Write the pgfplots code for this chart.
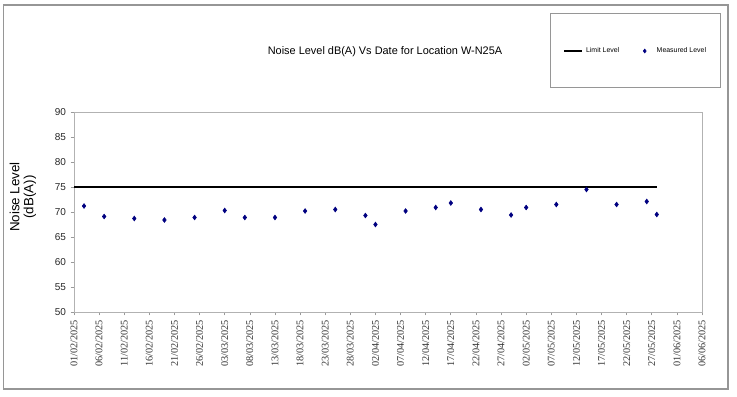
\documentclass[border=0pt]{standalone}
\usepackage{fontspec}
\setmainfont{Liberation Sans}
\newfontfamily\serifx{Liberation Serif}
\usepackage{pgfplots}
\pgfplotsset{compat=1.18}
\definecolor{navy}{RGB}{0,0,128}
\definecolor{framegray}{RGB}{150,150,150}
\begin{document}
\begin{tikzpicture}[x=0.75pt,y=-0.75pt]
\draw[framegray, line width=0.9pt] (3.5,5) rectangle (728,389);
\draw[framegray, line width=0.6pt] (550,13) rectangle (720,87);
\node[font=\fontsize{8.2}{9}\selectfont] at (385,52) {Noise Level dB(A) Vs Date for Location W-N25A};
\node[font=\fontsize{10}{10.5}\selectfont, rotate=90, align=center] at (23,197) {Noise Level\\(dB(A))};
\begin{axis}[
  at={(55.5pt,-234pt)}, anchor=south west,
  scale only axis, width=471pt, height=150pt,
  xmin=0, xmax=125, ymin=50, ymax=90,
  xtick={0,5,...,125},
  xticklabels={01/02/2025,06/02/2025,11/02/2025,16/02/2025,21/02/2025,26/02/2025,03/03/2025,08/03/2025,13/03/2025,18/03/2025,23/03/2025,28/03/2025,02/04/2025,07/04/2025,12/04/2025,17/04/2025,22/04/2025,27/04/2025,02/05/2025,07/05/2025,12/05/2025,17/05/2025,22/05/2025,27/05/2025,01/06/2025,06/06/2025},
  ytick={50,55,...,90},
  /pgf/number format/assume math mode=true,
  x tick label style={rotate=90, anchor=east, font=\serifx\fontsize{7.7}{8}\selectfont, text=black!80},
  y tick label style={font=\fontsize{7.5}{8}\selectfont, text=black!85},
  tick align=outside, major tick length=2.5pt,
  tick style={gray!80, line width=0.5pt},
  xtick pos=bottom, ytick pos=left,
  axis line style={gray!60, line width=0.5pt},
  legend columns=2,
  legend style={draw=none, fill=none, at={(0.895,1.305)}, anchor=center,
    font=\fontsize{5.2}{6}\selectfont,
    /tikz/every even column/.append style={column sep=16pt}},
  clip=false,
]
\addplot[black, line width=2pt, legend image code/.code={\draw[black, line width=1.5pt] (0pt,0pt) -- (13.5pt,0pt);}]
  coordinates {(0,75) (116,75)};
\addlegendentry{Limit Level}
\addplot[only marks, mark=diamond*, mark size=1.8pt, color=navy,
  legend image code/.code={\draw[navy, fill=navy, mark=diamond*, mark size=1.5pt] plot coordinates {(0pt,0pt)}; \path[draw=none] (-1pt,0pt) -- (7pt,0pt);}]
  coordinates {(2,71.2) (6,69.1) (12,68.7) (18,68.4) (24,68.9) (30,70.3) (34,68.9) (40,68.9) (46,70.2) (52,70.5) (58,69.3) (60,67.5) (66,70.2) (72,70.9) (75,71.8) (81,70.5) (87,69.4) (90,70.9) (96,71.5) (102,74.5) (108,71.5) (114,72.1) (116,69.5)};
\addlegendentry{Measured Level}
\end{axis}
\pgfresetboundingbox
\path (0,0) rectangle (737,396);
\end{tikzpicture}
\end{document}
